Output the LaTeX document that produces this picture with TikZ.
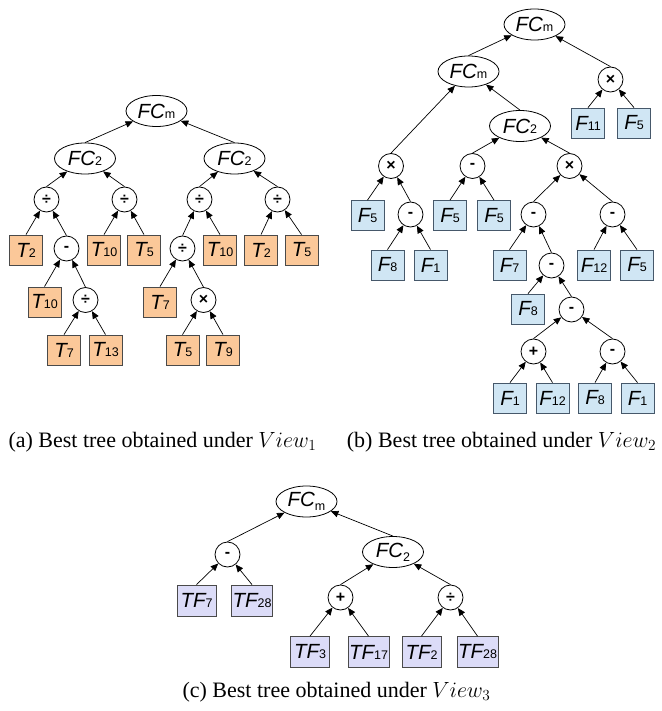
\RequirePackage{fix-cm}
\documentclass[tikz,border=0pt]{standalone}
\usepackage[no-math]{fontspec}
\setmainfont{Liberation Serif}
\newfontfamily\arialf{Liberation Sans}
\usetikzlibrary{shapes.geometric,arrows.meta}

% leaf and function labels: italic letters, small upright index
\newcommand{\lf}[2]{{\arialf\fontsize{20.5}{21}\selectfont\itshape #1}{\arialf\fontsize{12.5}{13}\selectfont #2}}
\newcommand{\lfsub}[2]{{\arialf\fontsize{20.5}{21}\selectfont\itshape #1}\raisebox{-4pt}{\arialf\fontsize{12.5}{13}\selectfont #2}}

\definecolor{tfill}{HTML}{FBC899}
\definecolor{tline}{HTML}{4A4A4A}
\definecolor{ffill}{HTML}{D0E6F4}
\definecolor{fline}{HTML}{46586A}
\definecolor{vfill}{HTML}{DCDCF8}
\definecolor{vline}{HTML}{4A4A4A}

\tikzset{
  fcnode/.style={ellipse, draw, line width=0.8pt, minimum width=61pt, minimum height=31pt, inner sep=0pt},
  opnode/.style={circle, draw, line width=0.8pt, minimum size=25pt, inner sep=0pt,
                 font=\arialf\bfseries\fontsize{16}{16}\selectfont},
  tleaf/.style={rectangle, draw=tline, fill=tfill, line width=0.8pt, minimum width=33pt, minimum height=30pt, inner sep=1pt},
  fleaf/.style={rectangle, draw=fline, fill=ffill, line width=0.8pt, minimum width=33pt, minimum height=30pt, inner sep=1pt},
  vleaf/.style={rectangle, draw=vline, fill=vfill, line width=0.8pt, minimum width=39pt, minimum height=31pt, inner sep=1pt},
  arr/.style={line width=0.7pt, -{Triangle[length=7.5pt,width=6.5pt]}},
  captext/.style={font=\fontsize{22}{24}\selectfont, inner sep=0pt}
}

\begin{document}
\begin{tikzpicture}[x=1pt,y=-1pt]
\useasboundingbox (0,0) rectangle (661,711);

% ---------- tree (a) ----------
\node[fcnode] (a0) at (156.5,111) {\lf{FC}{m}};
\node[fcnode] (a1) at (85,158.5) {\lf{FC}{2}};
\node[fcnode] (a2) at (234.5,158.5) {\lf{FC}{2}};
\node[opnode] (a3) at (46.5,199.5) {÷};
\node[opnode] (a4) at (124.5,199.5) {÷};
\node[opnode] (a5) at (199.5,199.5) {÷};
\node[opnode] (a6) at (277.5,199.5) {÷};
\node[tleaf] (a7) at (26,250) {\lf{T}{2}};
\node[opnode] (a8) at (66.5,248.5) {-};
\node[tleaf] (a9) at (104,250) {\lf{T}{10}};
\node[tleaf] (a10) at (144,250) {\lf{T}{5}};
\node[opnode] (a11) at (182.5,248.5) {÷};
\node[tleaf] (a12) at (220,250) {\lf{T}{10}};
\node[tleaf] (a13) at (261,250) {\lf{T}{2}};
\node[tleaf] (a14) at (301.5,250) {\lf{T}{5}};
\node[tleaf] (a15) at (44.5,302) {\lf{T}{10}};
\node[opnode] (a16) at (85.5,300) {÷};
\node[tleaf] (a17) at (160,302) {\lf{T}{7}};
\node[opnode] (a18) at (203.5,300) {×};
\node[tleaf] (a19) at (64,350) {\lf{T}{7}};
\node[tleaf] (a20) at (105.5,350) {\lf{T}{13}};
\node[tleaf] (a21) at (182.5,350) {\lf{T}{5}};
\node[tleaf] (a22) at (223,350) {\lf{T}{9}};

\foreach \c/\p in {a1/a0,a2/a0,a3/a1,a4/a1,a5/a2,a6/a2,a7/a3,a8/a3,a9/a4,a10/a4,
                   a11/a5,a12/a5,a13/a6,a14/a6,a15/a8,a16/a8,a17/a11,a18/a11,
                   a19/a16,a20/a16,a21/a18,a22/a18}
  \draw[arr] (\c.north) -- (\p);

% ---------- tree (b) ----------
\node[fcnode] (b0) at (534.5,24.5) {\lf{FC}{m}};
\node[fcnode] (b1) at (468.5,71.5) {\lf{FC}{m}};
\node[opnode] (b2) at (610.5,79.5) {×};
\node[fcnode] (b3) at (520,126) {\lf{FC}{2}};
\node[fleaf] (b4) at (588,123) {\lf{F}{11}};
\node[fleaf] (b5) at (634,123) {\lf{F}{5}};
\node[opnode] (b6) at (391,166) {×};
\node[opnode] (b7) at (472.5,166) {-};
\node[opnode] (b8) at (569.5,166) {×};
\node[fleaf] (b9) at (367.5,215.5) {\lf{F}{5}};
\node[opnode] (b10) at (410.5,214.5) {-};
\node[fleaf] (b11) at (450,215.5) {\lf{F}{5}};
\node[fleaf] (b12) at (494,215.5) {\lf{F}{5}};
\node[opnode] (b13) at (533.5,214.5) {-};
\node[opnode] (b14) at (612.5,214.5) {-};
\node[fleaf] (b15) at (387.5,265) {\lf{F}{8}};
\node[fleaf] (b16) at (430.5,265) {\lf{F}{1}};
\node[fleaf] (b17) at (509.5,265) {\lf{F}{7}};
\node[opnode] (b18) at (551.5,265.5) {-};
\node[fleaf] (b19) at (594,265) {\lf{F}{12}};
\node[fleaf] (b20) at (637,265) {\lf{F}{5}};
\node[fleaf] (b21) at (528,309) {\lf{F}{8}};
\node[opnode] (b22) at (571.5,309.5) {-};
\node[opnode] (b23) at (533.5,351.5) {+};
\node[opnode] (b24) at (612.5,351.5) {-};
\node[fleaf] (b25) at (510,398) {\lf{F}{1}};
\node[fleaf] (b26) at (552.5,398) {\lf{F}{12}};
\node[fleaf] (b27) at (595,398) {\lf{F}{8}};
\node[fleaf] (b28) at (637.5,398) {\lf{F}{1}};

\foreach \c/\p in {b1/b0,b2/b0,b6/b1,b3/b1,b4/b2,b5/b2,b7/b3,b8/b3,b9/b6,b10/b6,
                   b11/b7,b12/b7,b13/b8,b14/b8,b15/b10,b16/b10,b17/b13,b18/b13,
                   b19/b14,b20/b14,b21/b18,b22/b18,b23/b22,b24/b22,b25/b23,b26/b23,
                   b27/b24,b28/b24}
  \draw[arr] (\c.north) -- (\p);

% ---------- tree (c) ----------
\node[fcnode] (c0) at (306.5,501.5) {\lfsub{FC}{m}};
\node[opnode] (c1) at (227.5,554.5) {-};
\node[fcnode] (c2) at (393,552) {\lfsub{FC}{2}};
\node[vleaf] (c3) at (196.5,600.5) {\lf{TF}{7}};
\node[vleaf] (c4) at (252,600.5) {\lf{TF}{28}};
\node[opnode] (c5) at (340.5,597.5) {+};
\node[opnode] (c6) at (450.5,597.5) {÷};
\node[vleaf] (c7) at (310,652) {\lf{TF}{3}};
\node[vleaf] (c8) at (368.5,652) {\lf{TF}{17}};
\node[vleaf] (c9) at (421.5,652) {\lf{TF}{2}};
\node[vleaf] (c10) at (477.5,652) {\lf{TF}{28}};

\foreach \c/\p in {c1/c0,c2/c0,c3/c1,c4/c1,c5/c2,c6/c2,c7/c5,c8/c5,c9/c6,c10/c6}
  \draw[arr] (\c.north) -- (\p);

% ---------- captions ----------
\node[captext] (capa) at (162.5,442) {(a) Best tree obtained under $View_1$};
\node[captext] (capb) at (501.5,442) {(b) Best tree obtained under $View_2$};
\node[captext] (capc) at (336.5,692) {(c) Best tree obtained under $View_3$};
\end{tikzpicture}
\end{document}
